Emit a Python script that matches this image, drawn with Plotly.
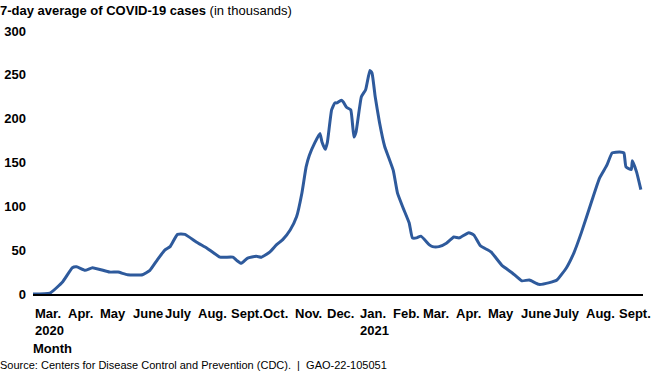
import plotly.graph_objects as go

dates = ["2020-02-28", "2020-03-15", "2020-03-27", "2020-04-05", "2020-04-09", "2020-04-17",
         "2020-04-24", "2020-05-10", "2020-05-18", "2020-05-27", "2020-06-10", "2020-06-17",
         "2020-06-24", "2020-07-01", "2020-07-06", "2020-07-13", "2020-07-20", "2020-07-31",
         "2020-08-10", "2020-08-22", "2020-09-03", "2020-09-07", "2020-09-11", "2020-09-17",
         "2020-09-25", "2020-09-30", "2020-10-08", "2020-10-14", "2020-10-20", "2020-10-27",
         "2020-11-02", "2020-11-07", "2020-11-11", "2020-11-14", "2020-11-19", "2020-11-24",
         "2020-11-26", "2020-11-29", "2020-12-01", "2020-12-05", "2020-12-08", "2020-12-10",
         "2020-12-14", "2020-12-16", "2020-12-19", "2020-12-23", "2020-12-26", "2020-12-28",
         "2021-01-02", "2021-01-06", "2021-01-10", "2021-01-12", "2021-01-15", "2021-01-19",
         "2021-01-24", "2021-01-27", "2021-02-01", "2021-02-05", "2021-02-10", "2021-02-16",
         "2021-02-19", "2021-02-23", "2021-02-27", "2021-03-07", "2021-03-10", "2021-03-16",
         "2021-03-23", "2021-03-30", "2021-04-04", "2021-04-13", "2021-04-18", "2021-04-24",
         "2021-05-04", "2021-05-14", "2021-05-24", "2021-06-02", "2021-06-09", "2021-06-18",
         "2021-06-28", "2021-07-05", "2021-07-14", "2021-07-21", "2021-07-28", "2021-08-07",
         "2021-08-14", "2021-08-21", "2021-08-26", "2021-09-02", "2021-09-06", "2021-09-08",
         "2021-09-13", "2021-09-14", "2021-09-18", "2021-09-22"]

cases_thousands = [0, 1, 14, 30, 31, 27,
                   30, 25, 25, 22, 22, 27,
                   39, 50, 54, 68, 68, 59,
                   52, 42, 42, 38, 35, 41,
                   43, 42, 48, 56, 62, 73,
                   88, 115, 145, 158, 172, 183,
                   173, 165, 173, 210, 218, 218,
                   221, 219, 213, 210, 179, 185,
                   225, 233, 255, 252, 225, 196,
                   168, 158, 141, 115, 99, 81,
                   64, 64, 66, 56, 54, 54,
                   58, 65, 64, 70, 67, 55,
                   48, 33, 24, 15, 16, 11,
                   13, 16, 30, 47, 70, 107,
                   132, 147, 161, 162, 161, 145,
                   142, 152, 139, 119]

month_starts = ["2020-03-01", "2020-04-01", "2020-05-01", "2020-06-01", "2020-07-01",
                "2020-08-01", "2020-09-01", "2020-10-01", "2020-11-01", "2020-12-01",
                "2021-01-01", "2021-02-01", "2021-03-01", "2021-04-01", "2021-05-01",
                "2021-06-01", "2021-07-01", "2021-08-01", "2021-09-01"]
month_labels = ["Mar.", "Apr.", "May", "June", "July", "Aug.", "Sept.", "Oct.", "Nov.", "Dec.",
                "Jan.", "Feb.", "Mar.", "Apr.", "May", "June", "July", "Aug.", "Sept."]
year_starts = ["2020-03-01", "2021-01-01"]
year_labels = ["2020", "2021"]
y_ticks = [0, 50, 100, 150, 200, 250, 300]

FONT = "Liberation Sans, Arial, sans-serif"

fig = go.Figure()
fig.add_trace(go.Scatter(x=dates, y=cases_thousands, mode="lines",
                         line=dict(color="#2E5A9C", width=3, shape="spline", smoothing=0.4),
                         hoverinfo="skip", showlegend=False))

annotations = []
for d, lab in zip(month_starts, month_labels):
    annotations.append(dict(x=d, xref="x", y=0, yref="paper", text=lab, showarrow=False,
                            xanchor="left", yanchor="middle", yshift=-19, xshift=-2,
                            font=dict(family=FONT, size=13, color="black", weight="bold")))
for d, lab in zip(year_starts, year_labels):
    annotations.append(dict(x=d, xref="x", y=0, yref="paper", text=lab, showarrow=False,
                            xanchor="left", yanchor="middle", yshift=-36, xshift=-2,
                            font=dict(family=FONT, size=13, color="black", weight="bold")))
annotations.append(dict(x=0, xref="paper", y=0, yref="paper", text="Month", showarrow=False,
                        xanchor="left", yanchor="middle", yshift=-54, xshift=-2,
                        font=dict(family=FONT, size=13, color="black", weight="bold")))
annotations.append(dict(x=0, xref="paper", y=0, yref="paper",
                        text="Source: Centers for Disease Control and Prevention (CDC).  |  GAO-22-105051",
                        showarrow=False, xanchor="left", yanchor="middle", yshift=-71, xshift=-35,
                        font=dict(family=FONT, size=11, color="black")))

fig.update_layout(
    width=672, height=372,
    margin=dict(l=33, r=29, t=31, b=78),
    paper_bgcolor="white", plot_bgcolor="white",
    title=dict(text="<b>7-day average of COVID-19 cases</b> (in thousands)",
               x=0, xref="container", xanchor="left", y=1 - 10 / 372, yref="container",
               yanchor="middle", automargin=False,
               font=dict(family=FONT, size=13, color="black")),
    xaxis=dict(type="date", range=["2020-02-28", "2021-09-24"], showgrid=False,
               showticklabels=False, ticks="", zeroline=False, automargin=False,
               showline=True, linecolor="black", linewidth=2),
    yaxis=dict(range=[0, 300], tickvals=y_ticks, showgrid=False, zeroline=False,
               showline=False, ticks="", ticklabelstandoff=6, automargin=False,
               tickfont=dict(family=FONT, size=13, color="black", weight="bold")),
    annotations=annotations,
)

fig.write_html("out.html", config={"displayModeBar": False},
               post_script="document.body.style.margin='0';document.body.style.overflow='hidden';")
